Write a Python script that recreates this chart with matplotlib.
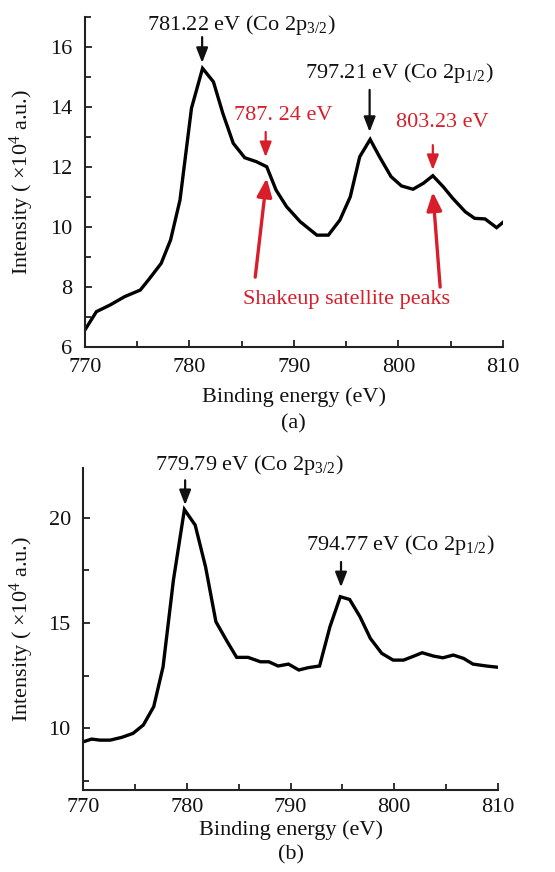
import matplotlib
matplotlib.use("Agg")
import matplotlib.pyplot as plt
from matplotlib.ticker import MultipleLocator

plt.rcParams['font.family'] = ['Liberation Serif', 'DejaVu Serif']
plt.rcParams['mathtext.fontset'] = 'custom'
plt.rcParams['mathtext.rm'] = 'Liberation Serif'
plt.rcParams['mathtext.it'] = 'Liberation Serif:italic'
plt.rcParams['mathtext.bf'] = 'Liberation Serif:bold'

# Panel (a) spectrum
energy_a = [770.0, 771.1, 772.4, 773.8, 775.3, 776.2, 777.3, 778.2, 779.1, 780.2,
            781.26, 782.3, 783.2, 784.2, 785.3, 786.4, 787.4, 788.3, 789.3, 790.6,
            792.2, 793.3, 794.4, 795.4, 796.3, 797.3, 798.2, 799.3, 800.3, 801.4,
            802.4, 803.3, 804.3, 805.2, 806.4, 807.3, 808.3, 809.4, 810.1]
intensity_a = [6.57, 7.18, 7.40, 7.68, 7.90, 8.29, 8.79, 9.57, 10.9, 13.96,
               15.29, 14.84, 13.79, 12.79, 12.31, 12.18, 12.01, 11.23, 10.68, 10.18,
               9.73, 9.73, 10.23, 11.01, 12.34, 12.92, 12.34, 11.68, 11.37, 11.26,
               11.46, 11.71, 11.34, 10.96, 10.51, 10.29, 10.27, 9.98, 10.18]

# Panel (b) spectrum
energy_b = [770.0, 770.8, 771.6, 772.6, 773.7, 774.8, 775.8, 776.8, 777.7, 778.7,
            779.76, 780.8, 781.8, 782.8, 783.9, 784.8, 785.9, 787.1, 787.9, 788.8,
            789.8, 790.8, 791.7, 792.8, 793.8, 794.8, 795.7, 796.7, 797.7, 798.8,
            799.9, 800.9, 801.9, 802.7, 803.8, 804.7, 805.7, 806.7, 807.6, 808.9, 810.0]
intensity_b = [9.36, 9.49, 9.44, 9.44, 9.57, 9.76, 10.16, 11.03, 12.92, 17.04,
               20.39, 19.65, 17.67, 15.06, 14.11, 13.37, 13.37, 13.16, 13.16, 12.96,
               13.05, 12.77, 12.88, 12.96, 14.82, 16.25, 16.12, 15.30, 14.27, 13.56,
               13.24, 13.24, 13.43, 13.59, 13.43, 13.35, 13.48, 13.32, 13.05, 12.96, 12.90]

xticks = [770, 780, 790, 800, 810]
yticks_a = [6, 8, 10, 12, 14, 16]
yticks_b = [10, 15, 20]

BLACK = '#111111'
RED = '#d81e2a'
FS = 16
YLABEL = 'Intensity ( ×10$^{4}$ a.u.)'

fig = plt.figure(figsize=(5.55, 8.72), dpi=100)
ax_a = fig.add_axes([0.153, 0.602, 0.753, 0.3785])
ax_b = fig.add_axes([0.150, 0.094, 0.747, 0.369])

for ax in (ax_a, ax_b):
    for s in ('top', 'right'):
        ax.spines[s].set_visible(False)
    for s in ('left', 'bottom'):
        ax.spines[s].set_linewidth(1.5)
        ax.spines[s].set_color('#222222')
    ax.set_xlim(770, 810)
    ax.set_xticks(xticks)
    ax.xaxis.set_minor_locator(MultipleLocator(5))
    ax.tick_params(which='both', direction='in', labelsize=FS, colors='#222222',
                   labelcolor=BLACK, width=1.3)
    ax.tick_params(which='major', length=5)
    ax.tick_params(which='minor', length=4)
    ax.tick_params(axis='y', pad=9)
    ax.set_ylabel(YLABEL, fontsize=FS, color=BLACK)

# ---- Panel (a)
ax_a.plot(energy_a, intensity_a, color='black', lw=2.4, solid_joinstyle='miter')
ax_a.set_ylim(6, 17)
ax_a.set_yticks(yticks_a)
ax_a.yaxis.set_minor_locator(MultipleLocator(1))
ax_a.tick_params(axis='x', pad=8)
ax_a.set_xlabel('Binding energy (eV)', fontsize=FS, color=BLACK, labelpad=7)
ax_a.yaxis.set_label_coords(-0.118, 0.5)

ka = dict(arrowstyle='-|>,head_width=0.35,head_length=0.9', lw=1.6, shrinkA=0, shrinkB=0)
ax_a.text(785.0, 16.73, '781.22 eV (Co 2p$_{\\mathrm{3/2}}$)', fontsize=FS, color=BLACK,
          ha='center', va='center', clip_on=False)
ax_a.annotate('', xy=(781.22, 15.47), xytext=(781.22, 16.33),
              arrowprops=dict(color=BLACK, **ka), annotation_clip=False)
ax_a.text(800.1, 15.13, '797.21 eV (Co 2p$_{\\mathrm{1/2}}$)', fontsize=FS, color=BLACK,
          ha='center', va='center', clip_on=False)
ax_a.annotate('', xy=(797.25, 13.17), xytext=(797.25, 14.57),
              arrowprops=dict(color=BLACK, **ka), annotation_clip=False)
ax_a.text(789.0, 13.73, '787. 24 eV', fontsize=FS, color=RED, ha='center', va='center')
ax_a.annotate('', xy=(787.3, 12.33), xytext=(787.3, 13.17),
              arrowprops=dict(color=RED, **ka))
ax_a.text(804.2, 13.47, '803.23 eV', fontsize=FS, color=RED, ha='center', va='center')
ax_a.annotate('', xy=(803.3, 11.9), xytext=(803.3, 12.73),
              arrowprops=dict(color=RED, **ka))
ax_a.text(795.0, 7.57, 'Shakeup satellite peaks', fontsize=FS, color=RED,
          ha='center', va='center')
kl = dict(arrowstyle='-|>,head_width=0.45,head_length=1.1', lw=2.4, shrinkA=0, shrinkB=0)
ax_a.annotate('', xy=(787.4, 11.63), xytext=(786.3, 8.33), arrowprops=dict(color=RED, **kl))
ax_a.annotate('', xy=(803.3, 11.17), xytext=(804.0, 8.0), arrowprops=dict(color=RED, **kl))
ax_a.text(0.5, -0.232, '(a)', transform=ax_a.transAxes, fontsize=FS, color=BLACK,
          ha='center', va='center')

# ---- Panel (b)
ax_b.plot(energy_b, intensity_b, color='black', lw=2.4, solid_joinstyle='miter')
ax_b.set_ylim(7.07, 22.35)
ax_b.set_yticks(yticks_b)
ax_b.yaxis.set_minor_locator(MultipleLocator(2.5))
ax_b.tick_params(axis='x', pad=6)
ax_b.set_xlabel('Binding energy (eV)', fontsize=FS, color=BLACK, labelpad=2)
ax_b.yaxis.set_label_coords(-0.115, 0.5)

ax_b.text(786.0, 22.5, '779.79 eV (Co 2p$_{\\mathrm{3/2}}$)', fontsize=FS, color=BLACK,
          ha='center', va='center', clip_on=False)
ax_b.annotate('', xy=(779.83, 20.6), xytext=(779.83, 21.78),
              arrowprops=dict(color=BLACK, **ka), annotation_clip=False)
ax_b.text(800.6, 18.7, '794.77 eV (Co 2p$_{\\mathrm{1/2}}$)', fontsize=FS, color=BLACK,
          ha='center', va='center')
ax_b.annotate('', xy=(794.87, 16.7), xytext=(794.87, 17.9),
              arrowprops=dict(color=BLACK, **ka))
ax_b.text(0.5, -0.203, '(b)', transform=ax_b.transAxes, fontsize=FS, color=BLACK,
          ha='center', va='center')

fig.savefig('out.png', dpi=100, facecolor='white')
